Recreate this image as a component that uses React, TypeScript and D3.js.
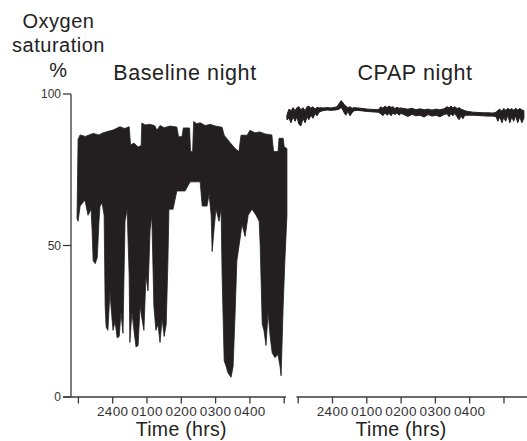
import React from "react";
import * as d3 from "d3";

// time in hours (24 = midnight, 25 = 0100 ...), value = SpO2 %
const baselineUpper: [number, number][] = [
  [22.96, 59], [22.99, 85], [23.05, 86.5], [23.2, 86], [23.43, 87], [23.6, 86.5], [23.72, 87.2],
  [23.9, 87.8], [24.01, 88.1], [24.21, 89.2], [24.35, 88.6], [24.48, 89.2], [24.52, 83.2],
  [24.62, 83.8], [24.74, 82.5], [24.83, 83], [24.85, 90.4], [24.95, 89.8], [25.09, 90],
  [25.23, 89.5], [25.29, 88], [25.38, 89.6], [25.5, 88.9], [25.67, 89.4], [25.87, 89.1],
  [25.92, 85.9], [26.02, 85.9], [26.06, 88.8], [26.24, 88.8], [26.27, 81], [26.33, 81],
  [26.36, 90.9], [26.45, 90.2], [26.55, 90.5], [26.7, 89.6], [26.84, 90], [27.0, 89.4],
  [27.19, 89], [27.25, 86.4], [27.42, 84], [27.57, 82], [27.68, 81], [27.74, 86.4],
  [27.92, 86.4], [28.0, 88], [28.15, 87.2], [28.29, 87.5], [28.45, 86.8], [28.64, 86.5],
  [28.69, 81], [28.82, 81], [28.85, 85.4], [28.97, 85.4], [29.0, 82.6], [29.08, 82],
];

const baselineLower: [number, number][] = [
  [22.96, 59], [22.99, 58], [23.05, 63], [23.19, 65], [23.28, 60], [23.37, 62], [23.4, 55],
  [23.43, 45], [23.49, 44], [23.55, 46], [23.6, 58], [23.63, 63], [23.69, 64], [23.75, 60],
  [23.78, 30], [23.81, 23], [23.86, 22], [23.92, 35], [23.95, 30], [24.01, 22], [24.07, 25],
  [24.13, 19.5], [24.19, 20], [24.24, 28], [24.3, 21], [24.33, 40], [24.36, 58], [24.42, 62],
  [24.48, 40], [24.5, 18], [24.56, 28], [24.62, 22], [24.68, 16.5], [24.74, 17], [24.8, 30],
  [24.85, 26], [24.91, 22], [24.97, 40], [25.03, 35], [25.09, 55], [25.14, 60], [25.2, 30],
  [25.26, 22], [25.32, 24], [25.38, 18], [25.44, 26], [25.5, 20], [25.56, 24], [25.61, 45],
  [25.64, 62], [25.76, 62], [25.87, 68], [26.11, 68], [26.26, 71], [26.55, 71], [26.61, 63],
  [26.75, 63], [26.81, 67], [26.87, 60], [26.9, 48], [26.96, 56], [27.01, 62], [27.1, 58],
  [27.16, 62], [27.19, 40], [27.25, 12], [27.31, 10], [27.36, 8], [27.45, 6.5], [27.51, 10],
  [27.57, 28], [27.62, 45], [27.71, 52], [27.77, 57], [27.86, 53], [27.95, 60], [28.06, 62],
  [28.18, 60], [28.27, 58], [28.3, 50], [28.36, 24], [28.41, 22], [28.47, 17], [28.53, 28],
  [28.59, 20], [28.65, 14.5], [28.73, 13], [28.82, 14], [28.88, 10], [28.91, 7], [28.97, 30],
  [29.02, 45], [29.08, 60],
];

// CPAP night: time, upper and lower edge of the trace band
const cpapTime = [
  22.67, 22.73, 22.79, 22.85, 22.91, 22.96, 23.02, 23.08, 23.14, 23.2, 23.26, 23.31, 23.37, 23.43,
  23.49, 23.55, 23.61, 23.67, 23.72, 23.84, 23.96, 24.07, 24.13, 24.19, 24.25, 24.28, 24.34, 24.39,
  24.45, 24.51, 24.57, 24.63, 24.74, 24.89, 25.03, 25.18, 25.33, 25.41, 25.47, 25.53, 25.59, 25.65,
  25.71, 25.76, 25.82, 25.88, 25.94, 26.0, 26.08, 26.2, 26.32, 26.43, 26.55, 26.67, 26.79, 26.9,
  27.02, 27.13, 27.25, 27.34, 27.4, 27.45, 27.51, 27.57, 27.63, 27.69, 27.75, 27.8, 27.86, 27.95,
  28.1, 28.24, 28.39, 28.53, 28.68, 28.77, 28.82, 28.88, 28.94, 28.99, 29.05, 29.11, 29.17, 29.23,
  29.28, 29.34, 29.4, 29.46, 29.52, 29.58,
];
const cpapHigh = [
  93, 95, 94.5, 95.5, 94.5, 95.5, 95.8, 94.8, 95.5, 94.5, 95.8, 96, 95.3, 95.8,
  95, 95.6, 95.4, 95.5, 95.4, 95.5, 95.4, 95.6, 95.8, 96.8, 97.8, 97.5, 96.5, 96,
  95.5, 95.8, 95.3, 95.5, 95.4, 95.2, 95, 94.9, 94.8, 95.8, 95.3, 96, 95.5, 96,
  95.6, 95.8, 95.2, 95.6, 95.3, 95.4, 95.2, 95, 95.3, 94.8, 95.1, 94.8, 95, 94.7,
  95, 94.8, 95.1, 95.8, 95.4, 96, 95.5, 95.8, 95.2, 95.5, 95, 94.8, 94.5, 94.2,
  94, 93.9, 93.8, 93.8, 93.7, 94, 94.6, 95, 94.3, 95.2, 94.6, 95.3, 94.8, 95.2,
  94.6, 95.3, 94.7, 95.2, 94.8, 94.5,
];
const cpapLow = [
  91.5, 92, 90.5, 92.5, 91, 92.5, 90, 89.5, 92, 90.5, 92.5, 91.5, 93, 92,
  93.5, 92.8, 94, 94.3, 94.5, 94.7, 94.6, 94.7, 94.8, 95, 95.5, 95.2, 93.8, 93,
  94.3, 92.8, 93.8, 94.5, 94.6, 94.4, 94.2, 94.1, 94, 93.5, 92.8, 93.8, 93, 93.6,
  92.8, 93.8, 93.2, 93.8, 93, 93.6, 93.2, 92.6, 93.3, 92.8, 93, 92.4, 93.2, 92.7,
  93, 92.5, 93.2, 93.5, 92.5, 93.5, 92.8, 93.6, 92.5, 91.5, 92.8, 91.8, 93, 93,
  93, 92.9, 92.8, 92.7, 92.7, 92.5, 91, 92.5, 90.5, 92.3, 91, 93, 90.5, 92.5,
  91, 92.8, 90.5, 92.5, 90.5, 92,
];

const xTickValues = [23, 24, 25, 26, 27, 28, 29];
const xTickLabels: Record<number, string> = { 24: "2400", 25: "0100", 26: "0200", 27: "0300", 28: "0400" };
const yTickValues = [0, 50, 100];
const yTitleLines = ["Oxygen", "saturation", "%"];
const panelTitles = ["Baseline night", "CPAP night"];
const xTitle = "Time (hrs)";

const FONT = "'Liberation Sans', Arial, Helvetica, sans-serif";
const INK = "#231f20";
const AXIS = "#3a3a3a";

export default function App() {
  const y = d3.scaleLinear().domain([0, 100]).range([397, 94]);
  const xLeft = d3.scaleLinear().domain([23, 29]).range([78.4, 284.2]);
  const xRight = d3.scaleLinear().domain([23, 29]).range([298.2, 504]);

  const polyLine = d3
    .line<[number, number]>()
    .x((d) => xLeft(d[0]))
    .y((d) => y(d[1]));
  const baselinePath = (polyLine([...baselineUpper, ...baselineLower.slice().reverse()]) || "") + "Z";

  const cpapArea = d3
    .area<number>()
    .x((_, i) => xRight(cpapTime[i]))
    .y0((_, i) => y(cpapLow[i]))
    .y1((_, i) => y(cpapHigh[i]));
  const cpapPath = cpapArea(cpapTime) || "";

  const axisBottom = (xs: d3.ScaleLinear<number, number>, x0: number, x1: number, key: string) => (
    <g key={key}>
      <line x1={x0} x2={x1} y1={y(0)} y2={y(0)} stroke={AXIS} strokeWidth={1.3} />
      {xTickValues.map((t) => (
        <g key={t}>
          <line x1={xs(t)} x2={xs(t)} y1={y(0)} y2={y(0) + 6.5} stroke={AXIS} strokeWidth={1.3} />
          {xTickLabels[t] && (
            <text x={xs(t)} y={416} textAnchor="middle" fontSize={13.5} letterSpacing={0.4} fontFamily={FONT} fill="#333">
              {xTickLabels[t]}
            </text>
          )}
        </g>
      ))}
      <text x={xs(26)} y={436} textAnchor="middle" fontSize={19.5} letterSpacing={0.3} fontFamily={FONT} fill="#222">
        {xTitle}
      </text>
    </g>
  );

  return (
    <svg width={527} height={441} style={{ position: "fixed", left: 0, top: 0, background: "#fff" }}>
      <rect width={527} height={441} fill="#fff" />
      <line x1={71} x2={71} y1={y(100)} y2={y(0)} stroke={AXIS} strokeWidth={1.3} />
      {yTickValues.map((v) => (
        <g key={v}>
          <line x1={63} x2={71} y1={y(v)} y2={y(v)} stroke={AXIS} strokeWidth={1.3} />
          <text x={61} y={y(v)} dy="0.35em" textAnchor="end" fontSize={12} fontFamily={FONT} fill="#333">
            {v}
          </text>
        </g>
      ))}
      {yTitleLines.map((s, i) => (
        <text key={s} x={58.5} y={27.5 + i * 24.5} textAnchor="middle" fontSize={20} letterSpacing={0.5} fontFamily={FONT} fill="#222">
          {s}
        </text>
      ))}
      <text x={185} y={80} textAnchor="middle" fontSize={21.5} letterSpacing={0.6} fontFamily={FONT} fill="#222">
        {panelTitles[0]}
      </text>
      <text x={415} y={80} textAnchor="middle" fontSize={21.5} letterSpacing={0.6} fontFamily={FONT} fill="#222">
        {panelTitles[1]}
      </text>

      {axisBottom(xLeft, 63, 286, "l")}
      {axisBottom(xRight, 296.5, 527, "r")}

      <path d={baselinePath} fill={INK} stroke={INK} strokeWidth={0.8} strokeLinejoin="miter" />
      <path d={cpapPath} fill={INK} stroke={INK} strokeWidth={1} strokeLinejoin="round" />
    </svg>
  );
}
